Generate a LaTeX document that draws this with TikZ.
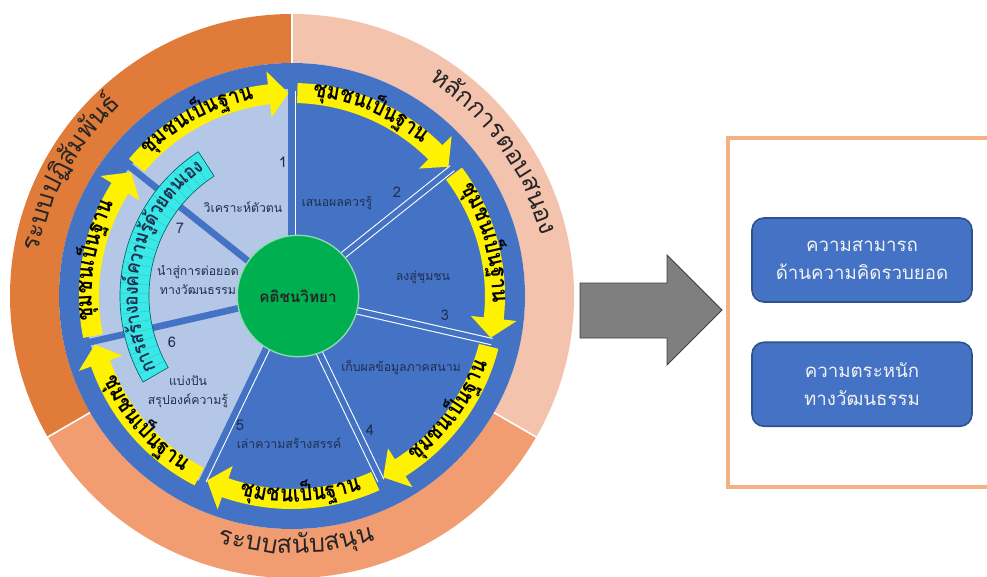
\documentclass[tikz,border=0pt]{standalone}
\usepackage{fontspec}
\usepackage{graphicx}
\newfontfamily\thaifont[Script=Thai]{Loma}
\usetikzlibrary{positioning}
\definecolor{ringA}{HTML}{E07B39}
\definecolor{ringB}{HTML}{F4C3AE}
\definecolor{ringC}{HTML}{F29C72}
\definecolor{wheel}{HTML}{4472C4}
\definecolor{pale}{HTML}{B4C7E7}
\definecolor{core}{HTML}{00B050}
\definecolor{band}{HTML}{3AE8E8}
\definecolor{ink}{HTML}{1F2F4F}
\definecolor{frame}{HTML}{F4B183}
\definecolor{boxline}{HTML}{2F528F}
\definecolor{shaft}{HTML}{7F7F7F}

\newcommand\arrowtxt[1]{\scalebox{0.88}[1]{\thaifont\bfseries\fontsize{17}{19}\selectfont#1}}
\newcommand\ringtxt[1]{{\thaifont\fontsize{19}{22}\selectfont#1}}
\newcommand\bandtxt[1]{\scalebox{0.88}[1]{\thaifont\bfseries\fontsize{14.8}{16}\selectfont#1}}

\newdimen\chunkw
\newdimen\chunksum
\newcommand\measurechunk[1]{\setbox0=\hbox{\pgfinterruptpicture#1\endpgfinterruptpicture}\global\chunkw=\wd0}
\newcommand\arcwords[5]{%
  \global\chunksum=0pt
  \foreach \w in {#5}{\measurechunk{#4{\w}}\global\advance\chunksum by \chunkw}
  \pgfmathsetmacro\curang{#1+(#3)*deg(\the\chunksum/((#2)*0.75))/2}
  \global\let\curang\curang
  \foreach \w in {#5}{
    \measurechunk{#4{\w}}
    \pgfmathsetmacro\stepang{deg(\the\chunkw/((#2)*0.75))}
    \pgfmathsetmacro\midang{\curang-(#3)*\stepang/2}
    \node[rotate=\midang-(#3)*90, inner sep=0pt, anchor=mid] at (\midang:#2) {#4{\w}};
    \pgfmathsetmacro\nxtang{\curang-(#3)*\stepang}
    \global\let\curang\nxtang
  }
}

\tikzset{
  seclbl/.style={font=\thaifont\fontsize{9.2}{14}\selectfont, text=ink, align=center, inner sep=1pt},
  numlbl/.style={font=\thaifont\fontsize{11}{12}\selectfont, text=ink, inner sep=1pt},
  resbox/.style={rounded corners=9pt, fill=wheel, draw=boxline, line width=1.2pt, minimum width=165pt, minimum height=63pt, align=center, text=white!95!black, font=\thaifont\fontsize{14}{21}\selectfont}
}

\begin{document}
\begin{tikzpicture}[x=0.75pt, y=0.75pt]
    \useasboundingbox (-292,-280) rectangle (695,296);
    \clip (-292,-280) rectangle (695,296);

    \fill[ringA] (90:282) arc[start angle=90, end angle=210, radius=282] -- (210:233) arc[start angle=210, end angle=90, radius=233] -- cycle;
    \fill[ringB] (-30:282) arc[start angle=-30, end angle=90, radius=282] -- (90:233) arc[start angle=90, end angle=-30, radius=233] -- cycle;
    \fill[ringC] (210:282) arc[start angle=210, end angle=330, radius=282] -- (330:233) arc[start angle=330, end angle=210, radius=233] -- cycle;
    \foreach \t in {90,210,330}
        \draw[white, line width=1.2pt] (\t:230) -- (\t:285);

    \fill[wheel] (0,0) circle (233);

    \foreach \k in {4,5,6}
        \fill[pale] (0,0) -- ({90-\k*360/7}:207) arc[start angle={90-\k*360/7}, end angle={90-(\k+1)*360/7}, radius=207] -- cycle;

    \foreach \k in {0,...,4}{
        \draw[white, line width=5.6pt] ({90-\k*360/7}:55) -- ({90-\k*360/7}:205);
        \draw[wheel, line width=4pt] ({90-\k*360/7}:50) -- ({90-\k*360/7}:210);
    }
    \draw[wheel, line width=2pt, shift={(180:2.5)}] (90:50) -- (90:210);
    \draw[wheel, line width=2pt, shift={({-115.71-90}:2.5)}] (-115.71:50) -- (-115.71:210);
    \foreach \k in {5,6}
        \draw[wheel, line width=5pt] ({90-\k*360/7}:50) -- ({90-\k*360/7}:215);

    % cyan band on the left
    \filldraw[fill=band, draw=teal!80!black, line width=0.5pt] (123:172) arc[start angle=123, end angle=210, radius=172] -- (210:143) arc[start angle=210, end angle=123, radius=143] -- cycle;
    \foreach \t in {126.5,130,...,207}
        \draw[band!75!teal, line width=0.4pt] (\t:144) -- (\t:171);
    \begin{scope}[text=ink]
        \arcwords{166.5}{157}{1}{\bandtxt}{การ,สร้าง,องค์,ความ,รู้,ด้วย,ตน,เอง}
    \end{scope}

    % yellow arrows, clockwise
    \foreach \k in {0,...,6}{
        \pgfmathsetmacro\ta{90-\k*360/7-1.5}
        \pgfmathsetmacro\tb{90-(\k+1)*360/7+1}
        \pgfmathsetmacro\hb{\tb+5.5}
        \fill[yellow] (\ta:213) arc[start angle=\ta, end angle=\hb, radius=213] -- (\hb:226) -- (\tb:203) -- (\hb:180) -- (\hb:193) arc[start angle=\hb, end angle=\ta, radius=193] -- cycle;
    }
    \foreach \k/\dir in {0/1,1/1,2/-1,3/-1,4/-1,5/1,6/1}{
        \pgfmathsetmacro\labang{90-\k*360/7-180/7+2.5}
        \arcwords{\labang}{203}{\dir}{\arrowtxt}{ชุม,ชน,เป็น,ฐาน}
    }

    \node[circle, fill=core, draw=white!55!core, line width=1pt, minimum size=91pt, font=\thaifont\bfseries\fontsize{11.5}{14}\selectfont, text=black!85] (core) at (6,0) {คติชนวิทยา};

    \node[seclbl] (s1) at (-49,89) {วิเคราะห์ตัวตน};
    \node[seclbl] (s2) at (45,93) {เสนอผลควรรู้};
    \node[seclbl] (s3) at (131,19) {ลงสู่ชุมชน};
    \node[seclbl] (s4) at (109,-71) {เก็บผลข้อมูลภาคสนาม};
    \node[seclbl] (s5) at (-3,-147) {เล่าความสร้างสรรค์};
    \node[seclbl] (s6) at (-104,-96) {แบ่งปัน\\สรุปองค์ความรู้};
    \node[seclbl] (s7) at (-94,16) {นำสู่การต่อยอด\\ทางวัฒนธรรม};

    \foreach \n/\x/\y in {1/-9/134, 2/105/104, 3/153/-19, 4/78/-134, 5/-52/-129, 6/-120/-46, 7/-112/68}
        \node[numlbl] (n\n) at (\x,\y) {\n};

    \begin{scope}[text=black!85]
        \arcwords{151}{259}{1}{\ringtxt}{ระบบ,ปฏิ,สัม,พันธ์}
        \arcwords{35.5}{258}{1}{\ringtxt}{หลัก,การ,ตอบ,สนอง}
        \arcwords{-89}{254}{-1}{\ringtxt}{ระบบ,สนับ,สนุน}
    \end{scope}

    \filldraw[fill=shaft, draw=black!75, line width=0.6pt] (288,13) -- (375,13) -- (375,41) -- (430,-14) -- (375,-69) -- (375,-42) -- (288,-42) -- cycle;
    \draw[frame, line width=3pt] (436,158) rectangle (700,-191);

    \node[resbox] (out1) at (570,36) {ความสามารถ\\ด้านความคิดรวบยอด};
    \node[resbox, below=29pt of out1] (out2) {ความตระหนัก\\ทางวัฒนธรรม};
\end{tikzpicture}
\end{document}
